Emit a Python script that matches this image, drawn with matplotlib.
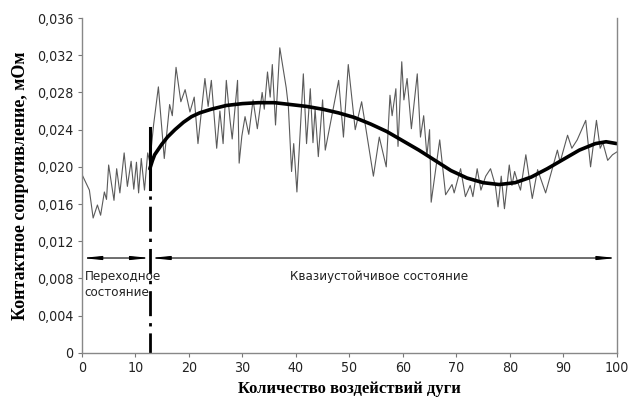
"""
plot.py
Contact resistance vs. number of arc exposures (noisy data + smooth trend).
"""

import numpy as np
import matplotlib
matplotlib.use("Agg")
import matplotlib.pyplot as plt
from matplotlib.ticker import FuncFormatter

# --------------------------------------------------------------------- data
# measured (noisy) curve, vertices read off the picture
meas_x = [0, 1.4, 2.1, 2.9, 3.5, 4.2, 4.6, 5.0, 6.0, 6.5, 7.1, 7.9, 8.5, 9.2,
          9.7, 10.2, 10.6, 11.1, 11.7, 12.3, 12.7, 13.4, 14.3, 15.4, 16.4,
          16.9, 17.6, 18.5, 19.3, 20.2, 21.0, 21.7, 23.0, 23.6, 24.2, 25.2,
          25.8, 26.4, 27.0, 27.7, 28.1, 29.1, 29.4, 29.9, 30.5, 31.2, 32.0,
          32.8, 33.7, 34.1, 34.7, 35.2, 35.6, 36.2, 37.0, 38.2, 38.6, 39.2,
          39.6, 40.2, 41.4, 42.0, 42.7, 43.2, 43.6, 44.2, 45.0, 45.5, 48.0,
          48.9, 49.8, 51.1, 52.3, 54.5, 55.6, 56.9, 57.6, 58.0, 58.7, 59.1,
          59.8, 60.2, 60.8, 61.6, 62.7, 63.3, 63.9, 64.5, 65.0, 65.3, 66.9,
          68.0, 69.2, 69.6, 70.8, 71.7, 72.6, 73.1, 73.9, 74.6, 75.5, 76.4,
          77.3, 77.8, 78.4, 79.0, 79.9, 80.4, 80.9, 81.4, 82.0, 83.0, 84.2,
          85.2, 86.7, 88.9, 89.4, 90.8, 91.6, 92.6, 94.2, 95.1, 96.2, 96.9,
          97.4, 98.3, 99.2, 100]
meas_y = [0.0192, 0.0175, 0.0145, 0.0159, 0.0148, 0.0173, 0.0165, 0.0202,
          0.0164, 0.0198, 0.0172, 0.0215, 0.0179, 0.0206, 0.0176, 0.0205,
          0.0172, 0.0209, 0.0175, 0.0215, 0.0205, 0.0245, 0.0286, 0.0209,
          0.0267, 0.0255, 0.0307, 0.0270, 0.0283, 0.0259, 0.0275, 0.0225,
          0.0295, 0.0265, 0.0293, 0.0220, 0.0260, 0.0225, 0.0293, 0.0250,
          0.0230, 0.0293, 0.0204, 0.0233, 0.0254, 0.0235, 0.0272, 0.0241,
          0.0280, 0.0262, 0.0302, 0.0275, 0.0310, 0.0245, 0.0328, 0.0285,
          0.0265, 0.0195, 0.0225, 0.0173, 0.0300, 0.0225, 0.0284, 0.0226,
          0.0262, 0.0211, 0.0272, 0.0218, 0.0293, 0.0232, 0.0310, 0.0240,
          0.0270, 0.0190, 0.0232, 0.0200, 0.0277, 0.0255, 0.0284, 0.0222,
          0.0313, 0.0272, 0.0295, 0.0241, 0.0300, 0.0232, 0.0255, 0.0212,
          0.0240, 0.0162, 0.0229, 0.0170, 0.0181, 0.0172, 0.0198, 0.0168,
          0.0180, 0.0168, 0.0198, 0.0175, 0.0190, 0.0198, 0.0180, 0.0157,
          0.0190, 0.0155, 0.0202, 0.0180, 0.0195, 0.0185, 0.0175, 0.0213,
          0.0166, 0.0197, 0.0172, 0.0218, 0.0205, 0.0234, 0.0220, 0.0229,
          0.0250, 0.0200, 0.0250, 0.0220, 0.0226, 0.0207, 0.0213, 0.0216]

# smooth trend curve
trend_x = [12.7, 13.2, 13.6, 14.9, 16.0, 17.4, 19.0, 20.5, 22.0, 24.2, 27.0,
           30.0, 33.0, 36.0, 39.0, 42.0, 45.0, 48.0, 51.0, 54.0, 57.0, 60.0,
           63.0, 66.0, 69.0, 72.0, 75.0, 78.0, 81.0, 84.0, 87.0, 90.0, 93.0,
           96.0, 98.0, 100]
trend_y = [0.0198, 0.0207, 0.0213, 0.0224, 0.0232, 0.0240, 0.0248, 0.0254,
           0.0258, 0.0262, 0.0266, 0.0268, 0.0269, 0.0269, 0.0267, 0.0265,
           0.0262, 0.0258, 0.0253, 0.0246, 0.0238, 0.0228, 0.0218, 0.0207,
           0.0196, 0.0188, 0.0183, 0.0181, 0.0183, 0.0189, 0.0198, 0.0208,
           0.0218, 0.0225, 0.0227, 0.0225]

x_split = 12.8          # boundary transient / quasi-steady
arrow_y = 0.0102
x_ticks = list(range(0, 101, 10))
y_ticks = [0, 0.004, 0.008, 0.012, 0.016, 0.020, 0.024, 0.028, 0.032, 0.036]

TEXT_FONT = dict(family="DejaVu Sans", stretch="condensed", fontsize=9.5,
                 color="#222222")
LABEL_FONT = dict(family="Liberation Serif", fontweight="bold")


def y_fmt(v, _):
    if v == 0:
        return "0"
    return f"{v:.3f}".replace(".", ",")


# --------------------------------------------------------------------- plot
fig = plt.figure(figsize=(6.3, 4.01), dpi=100)
ax = fig.add_axes([0.130, 0.120, 0.849, 0.835])

ax.plot(meas_x, meas_y, color="#5a5a5a", lw=0.8)
ax.plot(trend_x, trend_y, color="black", lw=2.6, solid_capstyle="round")

# boundary line (solid on top, then dash-dot)
ax.plot([x_split, x_split], [0.0242, 0.0176], color="black", lw=2.2)
ax.plot([x_split, x_split], [0.0176, 0.0], color="black", lw=2.0,
        linestyle=(9, (9, 2.5, 1.2, 2.5)))

# dimension arrows
arr = dict(arrowstyle="<|-|>,head_length=1.1,head_width=0.11",
           color="black", lw=0.8, shrinkA=0, shrinkB=0)
ax.annotate("", xy=(0, arrow_y), xytext=(x_split, arrow_y), arrowprops=arr)
ax.annotate("", xy=(x_split, arrow_y), xytext=(100, arrow_y), arrowprops=arr)

ax.text(0.5, 0.0089, "Переходное\nсостояние", ha="left", va="top",
        linespacing=1.3, **TEXT_FONT)
ax.text(55.5, 0.0089, "Квазиустойчивое состояние", ha="center", va="top",
        **TEXT_FONT)

ax.set_xlim(0, 100)
ax.set_ylim(0, 0.036)
ax.set_xticks(x_ticks)
ax.set_yticks(y_ticks)
ax.yaxis.set_major_formatter(FuncFormatter(y_fmt))
for lab in ax.get_xticklabels() + ax.get_yticklabels():
    lab.set_family("DejaVu Sans")
    lab.set_stretch("condensed")
    lab.set_fontsize(10.2)
    lab.set_color("#222222")
ax.tick_params(direction="out", length=3, width=0.8, color="#777777",
               pad=3)

for side in ("left", "bottom", "right"):
    ax.spines[side].set_color("#888888")
    ax.spines[side].set_linewidth(1.0)
ax.spines["top"].set_visible(False)

ax.set_xlabel("Количество воздействий дуги", labelpad=4, fontsize=12,
              **LABEL_FONT)
ax.set_ylabel("Контактное сопротивление, мОм", labelpad=6, fontsize=13,
              **LABEL_FONT)

fig.savefig("out.png", dpi=100)
